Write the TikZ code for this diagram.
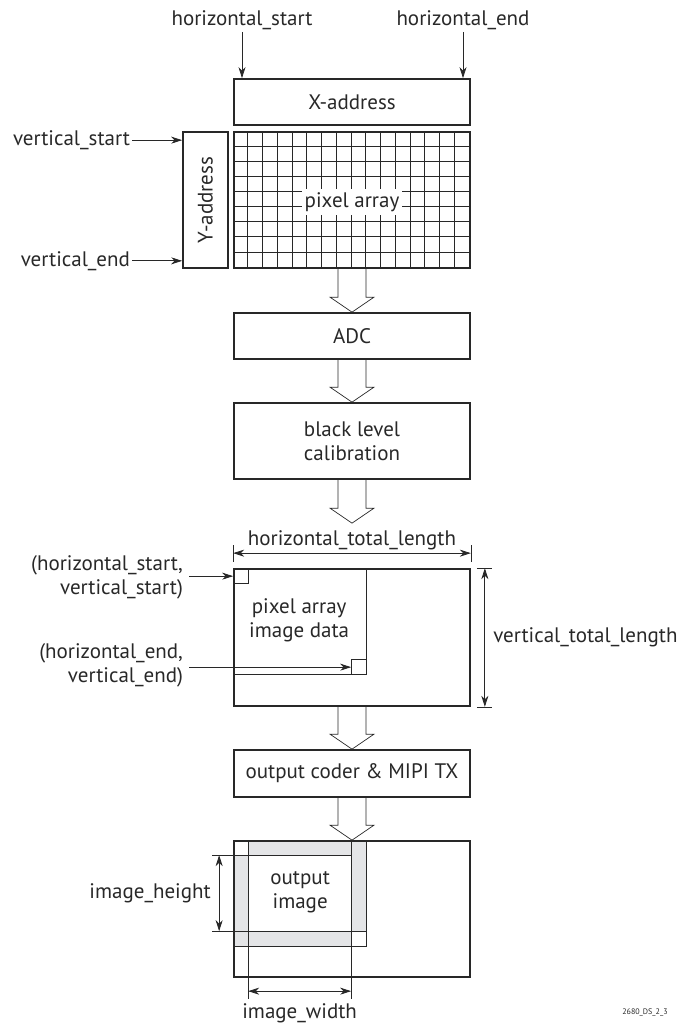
\documentclass[tikz,border=0pt]{standalone}
\usepackage{fontspec}
\setmainfont{PT Sans}
\usetikzlibrary{arrows.meta, positioning, calc, backgrounds}

\definecolor{ink}{RGB}{40,40,40}
\definecolor{band}{RGB}{228,229,231}

\tikzset{
  block/.style={rectangle, draw=ink, line width=1.7pt, minimum width=236pt, minimum height=46pt, text=ink, align=center, font=\fontsize{21}{24}\selectfont},
  lbl/.style={text=ink, inner sep=2pt, font=\fontsize{21}{24}\selectfont},
  line/.style={draw=ink, line width=0.8pt},
  thinline/.style={draw=ink, line width=0.7pt},
  gridline/.style={draw=ink, line width=0.9pt},
  pin/.style={line, -{Stealth[length=11pt,width=7pt,inset=3.5pt]}},
  dim/.style={line, {Stealth[length=11pt,width=7pt,inset=3.5pt]}-{Stealth[length=11pt,width=7pt,inset=3.5pt]}}
}

% wide hollow arrow from a point to a tip
\newcommand{\flowarrow}[2]{%
  \draw[thinline, line join=miter] ($(#1)+(-14pt,0)$) -- ($(#2)+(-14pt,15pt)$) -- ($(#2)+(-22pt,15pt)$) -- (#2) -- ($(#2)+(22pt,15pt)$) -- ($(#2)+(14pt,15pt)$) -- ($(#1)+(14pt,0)$);%
}

\begin{document}
\begin{tikzpicture}[node distance=98pt, on grid]

	\useasboundingbox (0,0) rectangle (683pt,-1027pt);

	\node [block] (xaddr) at (352pt,-102pt) {X-address};
	\node [block, minimum height=136pt, below=98pt of xaddr] (pixarr) {};
	\foreach \i in {1,...,15}
		\draw [gridline] ($(pixarr.north west)+(\i*14.75pt,0)$) -- ($(pixarr.south west)+(\i*14.75pt,0)$);
	\foreach \j in {1,...,8}
		\draw [gridline] ($(pixarr.north west)+(0,-\j*15.11pt)$) -- ($(pixarr.north east)+(0,-\j*15.11pt)$);
	\node [lbl, fill=white, inner sep=3pt] (pixlbl) at ($(pixarr)+(0,-2pt)$) {pixel array};

	\node [block, minimum width=45pt, minimum height=136pt, left=146.5pt of pixarr] (yaddr) {};
	\node [lbl, rotate=90] (ylbl) at (yaddr) {Y-address};

	\node [block, below=136pt of pixarr] (adc) {ADC};
	\node [block, minimum height=76pt, below=105pt of adc] (blc) {black level\\calibration};
	\node [block, minimum height=137pt, below=196.5pt of blc] (frame1) {};
	\node [block, minimum height=47pt, below=136pt of frame1] (coder) {output coder \& MIPI TX};
	\node [block, minimum height=136pt, below=135.5pt of coder] (frame2) {};

	\coordinate (htip) at ($(frame1.north)+(0,45pt)$);

	\flowarrow{pixarr.south}{adc.north}
	\flowarrow{adc.south}{blc.north}
	\flowarrow{blc.south}{htip}
	\flowarrow{frame1.south}{coder.north}
	\flowarrow{coder.south}{frame2.north}

	% address inputs
	\node [lbl] (hstart) at (242pt,-20pt) {horizontal\_start};
	\node [lbl] (hend) at (463pt,-20pt) {horizontal\_end};
	\draw [pin] (hstart.south) -- (hstart.south |- xaddr.north);
	\draw [pin] (hend.south) -- (hend.south |- xaddr.north);

	\coordinate (vs) at ($(yaddr.north west)+(0,-9pt)$);
	\coordinate (ve) at ($(yaddr.south west)+(0,8pt)$);
	\node [lbl, anchor=east] (vstart) at ($(vs)+(-50pt,0)$) {vertical\_start};
	\node [lbl, anchor=east] (vend) at ($(ve)+(-50pt,0)$) {vertical\_end};
	\draw [pin] (vstart.east) -- (vs);
	\draw [pin] (vend.east) -- (ve);

	% pixel array image data
	\begin{scope}[shift={(frame1.north west)}]
		\draw [thinline] (133pt,0) -- (133pt,-106pt) -- (0,-106pt);
		\draw [thinline] (0,-15pt) -| (15pt,0);
		\draw [thinline] (118pt,-106pt) |- (133pt,-91pt);
		\node [lbl, align=center] (pixdata) at (66pt,-52pt) {pixel array\\image data};
		\coordinate (tl) at (0,-8pt);
		\coordinate (br) at (118pt,-99pt);
	\end{scope}

	\node [lbl, align=right, anchor=east] (cstart) at ($(tl)+(-48pt,-1pt)$) {(horizontal\_start,\\vertical\_start)};
	\node [lbl, align=right, anchor=east] (cend) at ($(br)+(-166pt,2pt)$) {(horizontal\_end,\\vertical\_end)};
	\draw [pin] ($(cstart.east |- tl)+(4pt,0)$) -- (tl);
	\draw [pin] ($(cend.east |- br)+(4pt,0)$) -- (br);

	\coordinate (htl) at ($(frame1.north west)+(0,15pt)$);
	\coordinate (htr) at ($(frame1.north east)+(0,15pt)$);
	\draw [dim] (htl) -- node [lbl, above=1pt] (htlen) {horizontal\_total\_length} (htr);
	\draw [thinline] ($(htl)+(0,8pt)$) -- ($(htl)+(0,-9pt)$);
	\draw [thinline] ($(htr)+(0,8pt)$) -- ($(htr)+(0,-9pt)$);

	\coordinate (vtt) at ($(frame1.north east)+(14pt,0)$);
	\coordinate (vtb) at ($(frame1.south east)+(14pt,0)$);
	\draw [dim] (vtt) -- node [lbl, right=6pt] (vtlen) {vertical\_total\_length} (vtb);
	\draw [thinline] ($(frame1.north east)+(6pt,0)$) -- ++(15pt,0);
	\draw [thinline] ($(frame1.south east)+(6pt,0)$) -- ++(15pt,0);

	% output window
	\begin{scope}[shift={(frame2.north west)}]
		\begin{scope}[on background layer]
			\fill [band, even odd rule] (0,0) rectangle (133pt,-106pt) (15pt,-15pt) rectangle (118pt,-91pt)
				(0,0) rectangle (15pt,-15pt) (118pt,-91pt) rectangle (133pt,-106pt);
		\end{scope}
		\draw [thinline] (15pt,0) -- (15pt,-159pt);
		\draw [thinline] (118pt,0) -- (118pt,-159pt);
		\draw [thinline] (-21pt,-15pt) -- (118pt,-15pt);
		\draw [thinline] (-21pt,-91pt) -- (133pt,-91pt);
		\draw [thinline] (133pt,0) -- (133pt,-106pt) -- (0,-106pt);
		\node [lbl, align=center] (outimg) at (67pt,-52pt) {output\\image};
		\coordinate (ih1) at (-14pt,-15pt);
		\coordinate (ih2) at (-14pt,-91pt);
		\coordinate (iw1) at (15pt,-151pt);
		\coordinate (iw2) at (118pt,-151pt);
	\end{scope}

	\draw [dim] (ih1) -- node [lbl, left=6pt] (ihgt) {image\_height} (ih2);
	\draw [dim] (iw1) -- node [lbl, below=10pt] (iwid) {image\_width} (iw2);

	\node [lbl, font=\fontsize{8}{9}\selectfont] (code) at (645pt,-1012pt) {2680\_DS\_2\_3};

\end{tikzpicture}
\end{document}
